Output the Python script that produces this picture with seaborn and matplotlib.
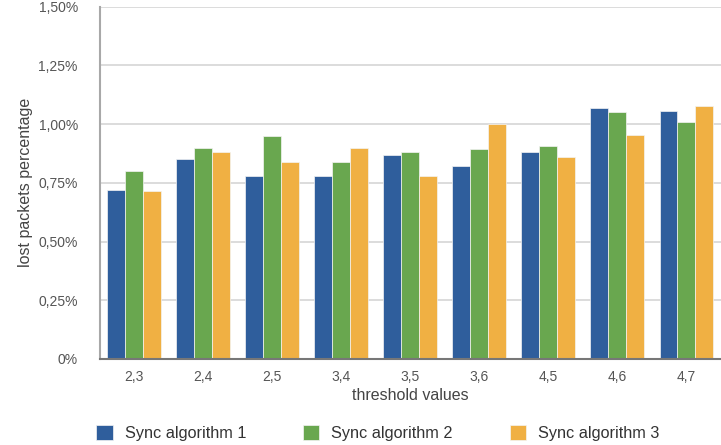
import pandas as pd
import matplotlib
matplotlib.use("Agg")
import matplotlib.pyplot as plt
import seaborn as sns

thresholds = ['2,3', '2,4', '2,5', '3,4', '3,5', '3,6', '4,5', '4,6', '4,7']
algo1 = [0.72, 0.85, 0.78, 0.78, 0.87, 0.82, 0.88, 1.07, 1.055]
algo2 = [0.80, 0.90, 0.95, 0.84, 0.88, 0.895, 0.905, 1.05, 1.01]
algo3 = [0.715, 0.88, 0.84, 0.90, 0.78, 1.00, 0.86, 0.955, 1.075]
series_names = ['Sync algorithm 1', 'Sync algorithm 2', 'Sync algorithm 3']
y_ticks = [0, 0.25, 0.5, 0.75, 1.0, 1.25, 1.5]
y_tick_labels = ['0%', '0,25%', '0,50%', '0,75%', '1,00%', '1,25%', '1,50%']

colors = ['#2f5e9c', '#69a74f', '#f0b043']

rows = []
for name, vals in zip(series_names, [algo1, algo2, algo3]):
    for t, v in zip(thresholds, vals):
        rows.append({'threshold': t, 'value': v, 'algorithm': name})
df = pd.DataFrame(rows)

sns.set_style('white')
plt.rcParams['font.family'] = ['Liberation Sans', 'DejaVu Sans']

fig = plt.figure(figsize=(7.21, 4.45), dpi=100)
ax = fig.add_axes([100 / 721, (445 - 359) / 445, 621 / 721, (359 - 6.5) / 445])

sns.barplot(data=df, x='threshold', y='value', hue='algorithm', palette=colors,
            width=0.78, saturation=1, ax=ax, legend=True,
            edgecolor='#f4f4f4', linewidth=0.5)

ax.set_xlim(-0.49, 8.5)
ax.set_ylim(0, 1.5)
ax.set_yticks(y_ticks)
ax.set_yticklabels(y_tick_labels)
ax.yaxis.grid(True, color='#d6d6d6', linewidth=1.2)
ax.set_axisbelow(True)
ax.tick_params(axis='both', length=0, labelsize=10, colors='#555555')
ax.tick_params(axis='x', pad=8)
ax.tick_params(axis='y', pad=16)

for side in ['top', 'right']:
    ax.spines[side].set_visible(False)
ax.spines['left'].set_color('#a8a8a8')
ax.spines['left'].set_linewidth(1.5)
ax.spines['bottom'].set_color('#777777')
ax.spines['bottom'].set_linewidth(1.5)

ax.set_xlabel('threshold values', fontsize=11.5, color='#444444', labelpad=3)
ax.set_ylabel('lost packets percentage', fontsize=11.5, color='#444444', labelpad=4)

handles, labels = ax.get_legend_handles_labels()
ax.get_legend().remove()
fig.legend(handles, labels, loc='center', bbox_to_anchor=(378 / 721, 1 - 433 / 445),
           ncol=3, frameon=False, fontsize=11.7, handlelength=1.0, handleheight=1.0,
           handletextpad=0.75, columnspacing=3.5, labelcolor='#333333')

fig.savefig('out.png', dpi=100)
